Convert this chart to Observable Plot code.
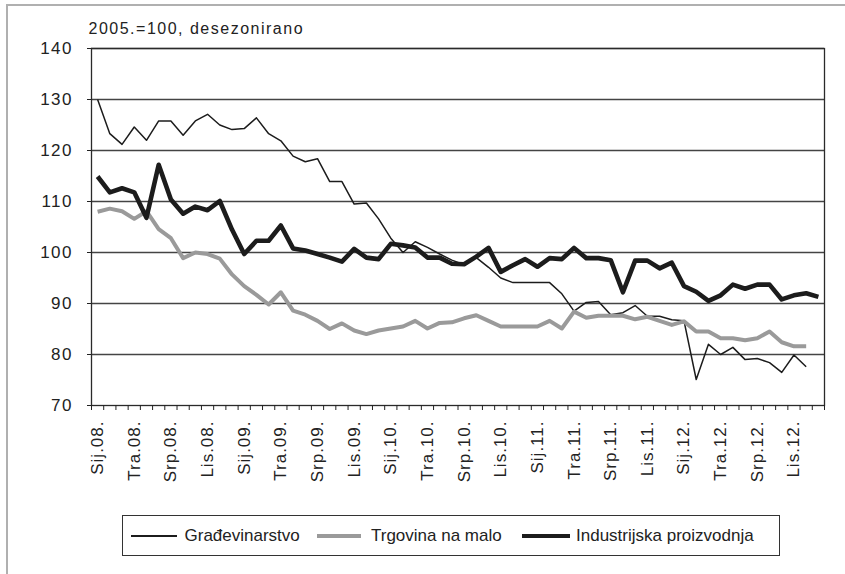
<!DOCTYPE html>
<html>
<head>
<meta charset="utf-8">
<script src="https://cdn.jsdelivr.net/npm/d3@7"></script>
<script src="https://cdn.jsdelivr.net/npm/@observablehq/plot@0.6"></script>
<style>
  html, body { margin: 0; padding: 0; background: #fff; }
  body { font-family: "Liberation Sans", Arial, sans-serif; color: #222; }
  #wrap { position: relative; width: 845px; height: 574px; overflow: hidden; }
  #topline { position: absolute; left: 6px; top: 4px; width: 839px; height: 2px; background: #b0b0b0; }
  #leftline { position: absolute; left: 6px; top: 4px; width: 2px; height: 570px; background: #b0b0b0; }
  #chart { position: absolute; left: 0; top: 0; }
  #legend { position: absolute; left: 122px; top: 515px; width: 656px; height: 39px;
            border: 1.5px solid #333; background: #fff; }
  .sw { position: absolute; }
  .lt { position: absolute; top: 9px; font-size: 17px; line-height: 22px; white-space: nowrap; color: #222; }
</style>
</head>
<body>
<div id="wrap">
  <div id="topline"></div>
  <div id="leftline"></div>
  <div id="chart"></div>
  <div id="legend"></div>
</div>
<script>
// Quarterly tick labels (every 3rd month, starting Jan 2008)
const tickLabels = ["Sij.08.", "Tra.08.", "Srp.08.", "Lis.08.",
                    "Sij.09.", "Tra.09.", "Srp.09.", "Lis.09.",
                    "Sij.10.", "Tra.10.", "Srp.10.", "Lis.10.",
                    "Sij.11.", "Tra.11.", "Srp.11.", "Lis.11.",
                    "Sij.12.", "Tra.12.", "Srp.12.", "Lis.12."];
const tickIndex = [0, 3, 6, 9, 12, 15, 18, 21, 24, 27, 30, 33, 36, 39, 42, 45, 48, 51, 54, 57];
const monthCount = 60;
const yTicks = [70, 80, 90, 100, 110, 120, 130, 140];
const subtitle = "2005.=100, desezonirano";

const seriesNames = ["Građevinarstvo", "Trgovina na malo", "Industrijska proizvodnja"];

const gradevinarstvo = [130, 123.3, 121.2, 124.6, 122.0, 125.8, 125.8, 123.0, 125.8, 127.1,
  125.0, 124.1, 124.3, 126.4, 123.3, 121.9, 118.9, 117.8, 118.4, 113.9,
  113.9, 109.5, 109.7, 106.6, 102.8, 100.0, 102.1, 101.0, 99.7, 98.5,
  97.6, 99.0, 97.1, 95.0, 94.1, 94.1, 94.1, 94.1, 91.9, 88.5,
  90.2, 90.4, 87.8, 88.2, 89.6, 87.5, 87.5, 86.8, 86.6, 75.1,
  82.0, 80.0, 81.4, 79.0, 79.2, 78.4, 76.5, 79.9, 77.6];

const trgovina = [108.0, 108.6, 108.1, 106.6, 108.1, 104.6, 102.8, 98.9, 100.0, 99.7,
  98.8, 95.7, 93.4, 91.7, 89.8, 92.2, 88.6, 87.8, 86.6, 85.0,
  86.1, 84.7, 84.0, 84.7, 85.1, 85.5, 86.6, 85.1, 86.2, 86.3,
  87.1, 87.7, 86.6, 85.5, 85.5, 85.5, 85.5, 86.6, 85.1, 88.4,
  87.2, 87.6, 87.6, 87.6, 86.9, 87.4, 86.6, 85.8, 86.5, 84.5,
  84.5, 83.2, 83.2, 82.8, 83.2, 84.5, 82.4, 81.6, 81.6];

const industrija = [114.9, 111.8, 112.6, 111.8, 106.8, 117.2, 110.4, 107.6, 109.0, 108.3,
  110.1, 104.5, 99.7, 102.3, 102.3, 105.3, 100.8, 100.4, 99.7, 99.0,
  98.2, 100.7, 99.0, 98.7, 101.7, 101.4, 101.0, 99.0, 99.0, 97.8,
  97.7, 99.2, 100.9, 96.2, 97.5, 98.7, 97.2, 98.9, 98.7, 100.9,
  98.9, 98.9, 98.5, 92.2, 98.4, 98.4, 96.9, 98.0, 93.4, 92.3,
  90.5, 91.6, 93.7, 92.9, 93.7, 93.7, 90.8, 91.6, 92.0, 91.3];

const seriesColors = ["#1c1c1c", "#9a9a9a", "#1c1c1c"];
const seriesWidths = [1.5, 4, 4.6];

const toRows = (vals) => vals.map((v, i) => ({i, value: v}));
const seriesData = [gradevinarstvo, trgovina, industrija].map(toRows);

const labelMap = new Map(tickIndex.map((p, k) => [p, tickLabels[k]]));
const boundaries = d3.range(-0.5, monthCount, 1);
const font = '"Liberation Sans", Arial, sans-serif';

const chart = Plot.plot({
  width: 845,
  height: 500,
  marginLeft: 91,
  marginRight: 21,
  marginTop: 48,
  marginBottom: 95,
  style: {fontFamily: font, background: "transparent", color: "#222", overflow: "visible"},
  x: {type: "linear", domain: [-0.5, monthCount - 0.5]},
  y: {domain: [70, 140]},
  marks: [
    Plot.ruleY(yTicks.slice(1), {stroke: "#444", strokeWidth: 1.3}),
    Plot.frame({stroke: "#2a2a2a", strokeWidth: 1.3}),
    Plot.axisY({ticks: yTicks, tickSize: 4, tickPadding: 14.5, fontSize: 17, label: null,
                stroke: "#222"}),
    Plot.axisX({ticks: boundaries, tickSize: 5, tickFormat: () => "", label: null, stroke: "#222"}),
    Plot.axisX({ticks: tickIndex, tickSize: 0, tickPadding: 15, tickRotate: -90, fontSize: 17,
                tickFormat: d => labelMap.get(d), label: null}),
    ...seriesData.map((rows, k) => Plot.line(rows, {
      x: "i", y: "value", stroke: seriesColors[k], strokeWidth: seriesWidths[k],
      strokeLinejoin: "round", strokeLinecap: "butt"
    })),
    Plot.text([subtitle], {frameAnchor: "top-left", dx: -3, dy: -15, lineAnchor: "bottom",
      textAnchor: "start", fontSize: 16, fill: "#222"})
  ]
});
document.getElementById("chart").appendChild(chart);

// letter spacing to mimic the wider original typeface
d3.select(chart).selectAll("text")
  .filter(function() { return this.textContent === subtitle; })
  .style("letter-spacing", "1.5px");
d3.select(chart).selectAll('[aria-label="x-axis tick label"] text').style("letter-spacing", "1px");
d3.select(chart).selectAll('[aria-label="y-axis tick label"] text').style("letter-spacing", "1.5px");

// Legend (HTML, below the SVG)
const legend = document.getElementById("legend");
const legendLayout = [
  {sw: 8, swW: 46, text: 61.5},
  {sw: 194, swW: 44, text: 248},
  {sw: 399, swW: 48, text: 453}
];
seriesNames.forEach((name, k) => {
  const sw = document.createElement("div");
  sw.className = "sw";
  sw.style.left = legendLayout[k].sw + "px";
  sw.style.width = legendLayout[k].swW + "px";
  sw.style.height = seriesWidths[k] + "px";
  sw.style.top = (20 - seriesWidths[k] / 2) + "px";
  sw.style.background = seriesColors[k];
  legend.appendChild(sw);
  const t = document.createElement("div");
  t.className = "lt";
  t.style.left = legendLayout[k].text + "px";
  t.textContent = name;
  legend.appendChild(t);
});
</script>
</body>
</html>
